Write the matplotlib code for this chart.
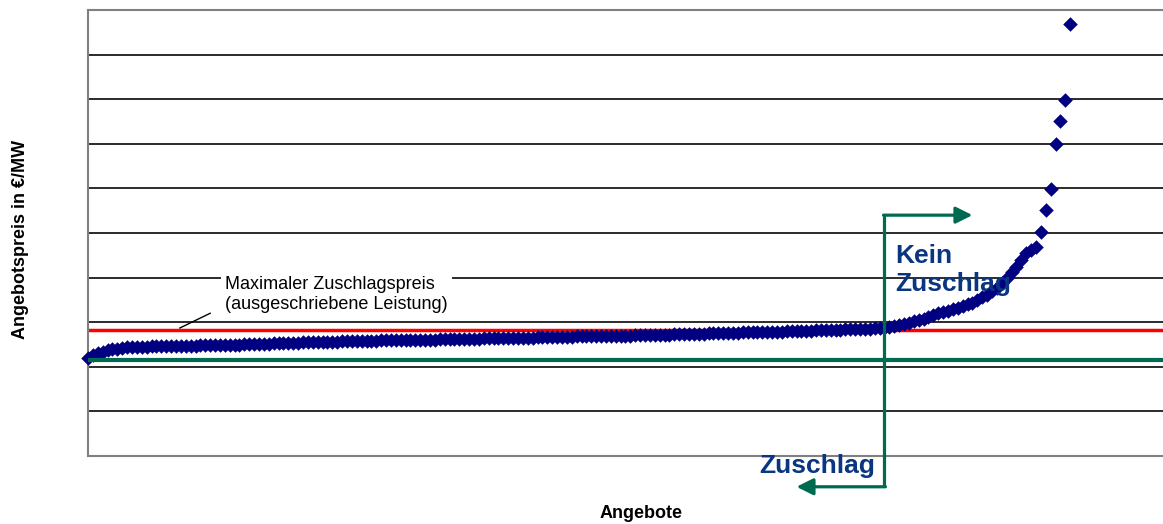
import matplotlib
matplotlib.use("Agg")
import matplotlib.pyplot as plt

# Angebotspreise, sortiert (Einheit = Gitterlinien)
preise = [
    2.20, 2.26, 2.30, 2.34, 2.37, 2.39, 2.41, 2.43, 2.44, 2.44,
    2.45, 2.45, 2.45, 2.46, 2.46, 2.46, 2.46, 2.47, 2.47, 2.47,
    2.47, 2.47, 2.47, 2.48, 2.48, 2.48, 2.49, 2.49, 2.49, 2.50,
    2.50, 2.50, 2.51, 2.51, 2.51, 2.52, 2.52, 2.52, 2.53, 2.53,
    2.53, 2.54, 2.54, 2.54, 2.55, 2.55, 2.55, 2.55, 2.56, 2.56,
    2.56, 2.56, 2.57, 2.57, 2.57, 2.57, 2.58, 2.58, 2.58, 2.58,
    2.59, 2.59, 2.59, 2.60, 2.60, 2.60, 2.60, 2.61, 2.61, 2.61,
    2.61, 2.61, 2.62, 2.62, 2.62, 2.62, 2.62, 2.63, 2.63, 2.63,
    2.63, 2.64, 2.64, 2.64, 2.64, 2.65, 2.65, 2.65, 2.65, 2.65,
    2.65, 2.65, 2.66, 2.66, 2.66, 2.66, 2.67, 2.67, 2.67, 2.67,
    2.68, 2.68, 2.68, 2.68, 2.69, 2.69, 2.69, 2.69, 2.70, 2.70,
    2.70, 2.70, 2.71, 2.71, 2.71, 2.71, 2.72, 2.72, 2.72, 2.72,
    2.73, 2.73, 2.73, 2.73, 2.74, 2.74, 2.74, 2.75, 2.75, 2.75,
    2.75, 2.76, 2.76, 2.76, 2.77, 2.77, 2.77, 2.78, 2.78, 2.78,
    2.79, 2.79, 2.79, 2.80, 2.80, 2.80, 2.81, 2.81, 2.81, 2.82,
    2.82, 2.82, 2.83, 2.83, 2.83, 2.84, 2.84, 2.84, 2.85, 2.85,
    2.85, 2.86, 2.86, 2.87, 2.89, 2.91, 2.94, 2.96, 2.99, 3.02,
    3.05, 3.08, 3.12, 3.16, 3.20, 3.23, 3.26, 3.29, 3.32, 3.36,
    3.40, 3.44, 3.50, 3.56, 3.62, 3.69, 3.77, 3.88, 4.00, 4.12,
    4.24, 4.40, 4.55, 4.62, 4.69, 5.02, 5.52, 5.99, 7.00, 7.51,
    7.98, 9.69,
]
angebote = list(range(len(preise)))

max_zuschlagspreis = 2.83
grenzpreis = 2.15
grenz_angebot = 163

x_label = "Angebote"
y_label = "Angebotspreis in €/MW"
anmerkung = "Maximaler Zuschlagspreis\n(ausgeschriebene Leistung)"
text_oben = "Kein\nZuschlag"
text_unten = "Zuschlag"

NAVY = "#000080"
GRUEN = "#006A50"
TEXTBLAU = "#0A3580"


def zeichnen():
    plt.rcParams['font.family'] = ['Liberation Sans', 'DejaVu Sans']
    fig = plt.figure(figsize=(11.63, 5.24), dpi=100)
    ax = fig.add_axes([88 / 1163, 68 / 524, 1075 / 1163, 446 / 524])

    ax.set_xlim(0, 220)
    ax.set_ylim(0, 10)
    ax.set_yticks(range(1, 10))
    ax.set_xticks([])
    ax.tick_params(length=0, labelleft=False, labelbottom=False)
    ax.grid(axis='y', color='#1a1a1a', linewidth=1.3)
    ax.set_axisbelow(True)
    for lado in ['left', 'top', 'bottom']:
        ax.spines[lado].set_color('#808080')
        ax.spines[lado].set_linewidth(1.5)
    ax.spines['right'].set_visible(False)

    # Linien
    ax.axhline(max_zuschlagspreis, color='red', linewidth=2.5, zorder=2)
    ax.scatter(angebote, preise, marker='D', s=55, color=NAVY,
               linewidths=0, zorder=3, clip_on=False)
    ax.axhline(grenzpreis, color=GRUEN, linewidth=3, zorder=4)

    # Pfeile Zuschlag / kein Zuschlag
    y_oben, y_unten = 5.4, -0.69
    ax.plot([grenz_angebot, grenz_angebot], [y_oben, y_unten], color=GRUEN,
            linewidth=2.3, zorder=5, clip_on=False, solid_capstyle='butt')
    pfeil = dict(arrowstyle='-|>,head_length=1.0,head_width=0.5', lw=2.3,
                 color=GRUEN, shrinkA=0, shrinkB=0)
    ax.annotate('', xy=(181, y_oben), xytext=(grenz_angebot - 0.2, y_oben),
                arrowprops=pfeil, annotation_clip=False, zorder=5)
    ax.annotate('', xy=(145, y_unten), xytext=(grenz_angebot + 0.2, y_unten),
                arrowprops=pfeil, annotation_clip=False, zorder=5)

    ax.text(165.2, 4.17, text_oben, color=TEXTBLAU, fontsize=19,
            fontweight='bold', va='center', ha='left', linespacing=1.2,
            zorder=6)
    ax.text(137.3, -0.38, text_unten, color=TEXTBLAU, fontsize=19,
            fontweight='bold', va='baseline', ha='left', zorder=6,
            clip_on=False)

    # Anmerkung mit weissem Hintergrund
    ax.text(28.0, 3.62, anmerkung, fontsize=13, va='center', ha='left',
            linespacing=1.2, zorder=6,
            bbox=dict(facecolor='white', edgecolor='none', pad=3))
    ax.plot([18.8, 25.0], [2.87, 3.2], color='black', linewidth=1, zorder=6)

    ax.set_xlabel(x_label, fontsize=13, fontweight='bold', va='center')
    ax.xaxis.set_label_coords((641 - 88) / 1075, (456 - 514) / 446)
    ax.set_ylabel(y_label, fontsize=13, fontweight='bold', va='center')
    ax.yaxis.set_label_coords((21 - 88) / 1075, (456 - 239) / 446)

    fig.savefig('out.png', dpi=100)


def main():
    zeichnen()


if __name__ == "__main__":
    main()
